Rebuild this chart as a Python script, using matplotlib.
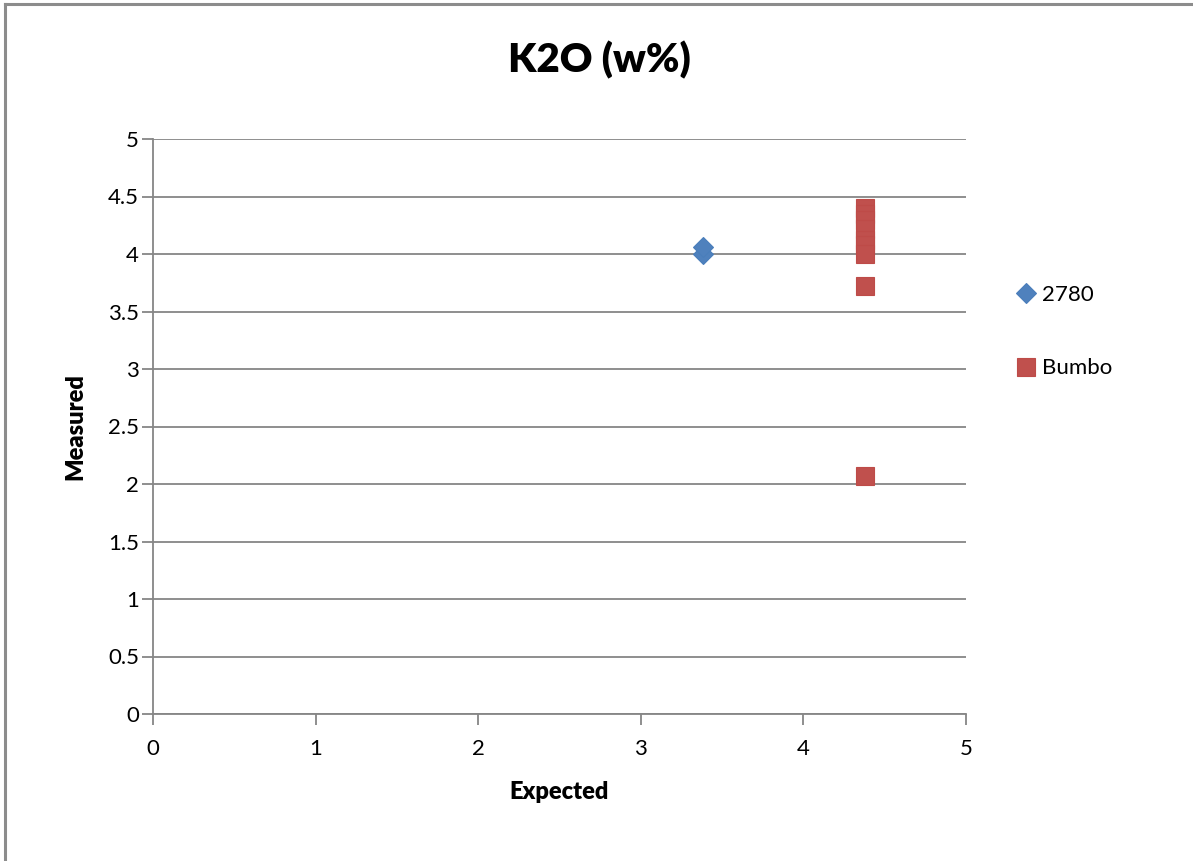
import matplotlib.pyplot as plt
from matplotlib.lines import Line2D

plt.rcParams['font.family'] = ['Lato', 'DejaVu Sans']

# K2O content (w%): expected vs measured
series_2780_expected = [3.38, 3.38]
series_2780_measured = [4.00, 4.06]

series_bumbo_expected = [4.38, 4.38, 4.38, 4.38, 4.38, 4.38, 4.38, 4.38, 4.38]
series_bumbo_measured = [4.40, 4.35, 4.30, 4.22, 4.12, 4.08, 4.00, 3.72, 2.07]

x_ticks = [0, 1, 2, 3, 4, 5]
y_ticks = [0, 0.5, 1, 1.5, 2, 2.5, 3, 3.5, 4, 4.5, 5]
y_tick_labels = ['0', '0.5', '1', '1.5', '2', '2.5', '3', '3.5', '4', '4.5', '5']

W, H = 1193, 861
fig = plt.figure(figsize=(W / 100, H / 100), dpi=100)
ax = fig.add_axes([153 / W, (H - 714) / H, (966 - 153) / W, (714 - 139) / H])

grid_c = '#868686'
blue = '#4F81BD'
red = '#C0504D'

ax.plot(series_2780_expected, series_2780_measured, linestyle='none', marker='D',
        markersize=10.5, color=blue, markeredgecolor='#4A7EBB', markeredgewidth=0.8,
        label='2780', zorder=3)
ax.plot(series_bumbo_expected, series_bumbo_measured, linestyle='none', marker='s',
        markersize=13.5, color=red, markeredgecolor='#BE4B48', markeredgewidth=0.8,
        label='Bumbo', zorder=3)

ax.set_xlim(0, 5)
ax.set_ylim(0, 5)
ax.set_xticks(x_ticks)
ax.set_yticks(y_ticks)
ax.set_yticklabels(y_tick_labels)
ax.yaxis.grid(True, color=grid_c, linewidth=1.3)
ax.set_axisbelow(True)

for side in ('top', 'right'):
    ax.spines[side].set_visible(False)
for side in ('left', 'bottom'):
    ax.spines[side].set_color(grid_c)
    ax.spines[side].set_linewidth(1.3)

ax.tick_params(axis='both', direction='out', length=8, width=1.3, color=grid_c,
               labelsize=16, labelcolor='black')
ax.tick_params(axis='x', pad=10)
ax.tick_params(axis='y', pad=2)

ax.set_xlabel('Expected', fontsize=17, fontweight='heavy', labelpad=16)
ax.set_ylabel('Measured', fontsize=17, fontweight='heavy', labelpad=16)

fig.text(599 / W, 1 - 60 / H, 'K2O (w%)', fontsize=29, fontweight='heavy',
         ha='center', va='center')

leg = fig.legend(loc='upper left', bbox_to_anchor=(998 / W, 1 - 274 / H),
                 frameon=False, fontsize=16, handletextpad=0.0,
                 labelspacing=2.4, handlelength=1.5, borderpad=0,
                 markerscale=1.0)

# outer chart border (left and top edges)
fig.add_artist(Line2D([4.5 / W, 4.5 / W], [0, 1 - 4 / H], transform=fig.transFigure,
                      color='#8C8C8C', linewidth=2.2))
fig.add_artist(Line2D([4.5 / W, 1], [1 - 4 / H, 1 - 4 / H], transform=fig.transFigure,
                      color='#8C8C8C', linewidth=2.2))

fig.savefig('out.png', dpi=100)
